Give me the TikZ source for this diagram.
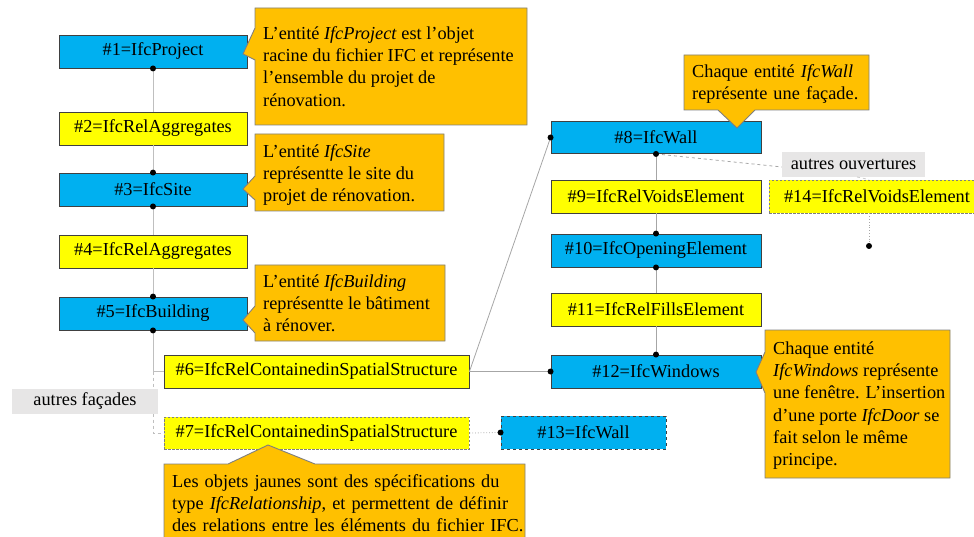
\documentclass[tikz,border=0pt]{standalone}
\usepackage{fontspec}
\setmainfont{Liberation Serif}
\definecolor{ifcblue}{HTML}{00B0F0}
\definecolor{ifcyellow}{HTML}{FFFF00}
\definecolor{ifcorange}{HTML}{FFC000}
\definecolor{boxline}{HTML}{404040}
\definecolor{calline}{HTML}{7F7F7F}
\definecolor{labgray}{HTML}{E7E6E6}
\newcommand\myfs{\fontsize{18.3}{22.2}\selectfont}
\tikzset{
  box/.style={draw=boxline, line width=0.9pt, inner sep=0pt, minimum height=33pt, font=\myfs},
  ent/.style={box, fill=ifcblue},
  rel/.style={box, fill=ifcyellow},
  ghost/.style={dash pattern=on 2.5pt off 1.5pt, draw=calline},
  callout/.style={fill=ifcorange, draw=calline, line width=0.9pt, line join=miter},
  caltext/.style={inner sep=0pt, anchor=north west, font=\myfs, align=left},
  lab/.style={fill=labgray, inner sep=0pt, font=\myfs},
  conn/.style={draw=gray!70, line width=0.8pt},
  dot/.style={circle, fill=black, inner sep=0pt, minimum size=6pt}
}
\begin{document}
\begin{tikzpicture}[x=1pt,y=-1pt]
\useasboundingbox (0,0) rectangle (974,537);

% entity / relation boxes
\node[ent, minimum width=188pt] (n1) at (153,51.5) {\#1=IfcProject};
\node[rel, minimum width=188pt] (n2) at (153,128.5) {\#2=IfcRelAggregates};
\node[ent, minimum width=188pt] (n3) at (153,189.5) {\#3=IfcSite};
\node[rel, minimum width=188pt] (n4) at (153,251.5) {\#4=IfcRelAggregates};
\node[ent, minimum width=188pt] (n5) at (153,313.5) {\#5=IfcBuilding};
\node[rel, minimum width=305pt] (n6) at (316.5,371.5) {\#6=IfcRelContainedinSpatialStructure};
\node[rel, ghost, minimum width=305pt, minimum height=32pt] (n7) at (316.5,433) {\#7=IfcRelContainedinSpatialStructure};
\node[ent, minimum width=210pt, minimum height=32pt] (n8) at (656,137.5) {\#8=IfcWall};
\node[rel, minimum width=210pt] (n9) at (656,196.5) {\#9=IfcRelVoidsElement};
\node[ent, minimum width=210pt] (n10) at (656,250.5) {\#10=IfcOpeningElement};
\node[rel, minimum width=210pt] (n11) at (656,309.5) {\#11=IfcRelFillsElement};
\node[ent, minimum width=210pt] (n12) at (656,371.5) {\#12=IfcWindows};
\node[ent, dashed, draw=boxline, minimum width=165pt] (n13) at (583.5,432.5) {\#13=IfcWall};
\node[rel, ghost, minimum width=216pt] (n14) at (877,196.5) {\#14=IfcRelVoidsElement};

% connectors
\coordinate (j1) at (153,371.5);
\coordinate (d14) at (869,246);
\draw[conn, draw=gray!50] (n1.south) -- (n2.north);
\draw[conn, draw=gray!50] (n2.south) -- (n3.north);
\draw[conn, draw=gray!50] (n3.south) -- (n4.north);
\draw[conn, draw=gray!50] (n4.south) -- (n5.north);
\draw[conn, draw=gray!50] (n5.south) -- (j1) -- (n6.west);
\draw[conn, draw=gray!50, dashed] (j1) |- (n7.west);
\draw[conn] (n6.east) -- (n8.west);
\draw[conn] (n6.east) -- (n12.west);
\draw[conn] (n8.south) -- (n9.north);
\draw[conn] (n9.south) -- (n10.north);
\draw[conn] (n10.south) -- (n11.north);
\draw[conn] (n11.south) -- (n12.north);
\draw[conn, dotted] (n7.east) -- (n13.west);
\draw[conn, dotted] (n14.south -| d14) -- (d14);

% grey labels
\node[lab, minimum width=146pt, minimum height=25pt] (af) at (85,401.5) {autres façades};
\draw[conn, dashed] (n8.south) -- (782,167);
\node[lab, minimum width=143pt, minimum height=25pt] (ao) at (853.5,164.5) {autres ouvertures};
\draw[conn, dashed, draw=gray!40] (857,177) -- (n14.north -| 869,0);

% dots
\foreach \p in {n1.south, n3.north, n3.south, n5.north, n5.south, n8.west, n8.south, n10.north, n10.south, n12.north, n12.west, n13.west, d14}
  \node[dot] at (\p) {};

% callouts
\draw[callout] (255,8) -- (527,8) -- (527,125) -- (255,125) -- (255,60) -- (243,54) -- (255,28) -- cycle;
\node[caltext] (c1) at (263,26.5) {L’entité \textit{IfcProject} est l’objet\\racine du fichier IFC et représente\\l’ensemble du projet de\\rénovation.};

\draw[callout] (255,134) -- (444,134) -- (444,211) -- (255,211) -- (255,200) -- (243,189) -- (255,176) -- cycle;
\node[caltext] (c2) at (263,144.5) {L’entité \textit{IfcSite}\\représentte le site du\\projet de rénovation.};

\draw[callout] (255,265) -- (445,265) -- (445,341) -- (255,341) -- (255,333) -- (243,320) -- (255,306) -- cycle;
\node[caltext] (c3) at (263,274.5) {L’entité \textit{IfcBuilding}\\représentte le bâtiment\\à rénover.};

\draw[callout] (684,55) -- (869,55) -- (869,110) -- (755,110) -- (737,128) -- (718,110) -- (684,110) -- cycle;
\node[caltext, text width=170pt] (c4) at (692,64.5) {\makebox[\linewidth][s]{Chaque entité \textit{IfcWall}}\\représente une façade.};

\draw[callout] (765,330) -- (950,330) -- (950,478) -- (765,478) -- (765,393) -- (756,372) -- (765,352) -- cycle;
\node[caltext] (c5) at (773,341.5) {Chaque entité\\\textit{IfcWindows} représente\\une fenêtre. L’insertion\\d’une porte \textit{IfcDoor} se\\fait selon le même\\principe.};

\draw[callout] (164,464) -- (228,464) -- (268,445) -- (315,464) -- (525,464) -- (525,545) -- (164,545) -- cycle;
\node[caltext, text width=348pt] (c6) at (172,474.5) {\makebox[\linewidth][s]{Les objets jaunes sont des spécifications du}\\\makebox[\linewidth][s]{type \textit{IfcRelationship}, et permettent de définir}\\\makebox[\linewidth][s]{des relations entre les éléments du fichier IFC.}};
\end{tikzpicture}
\end{document}
